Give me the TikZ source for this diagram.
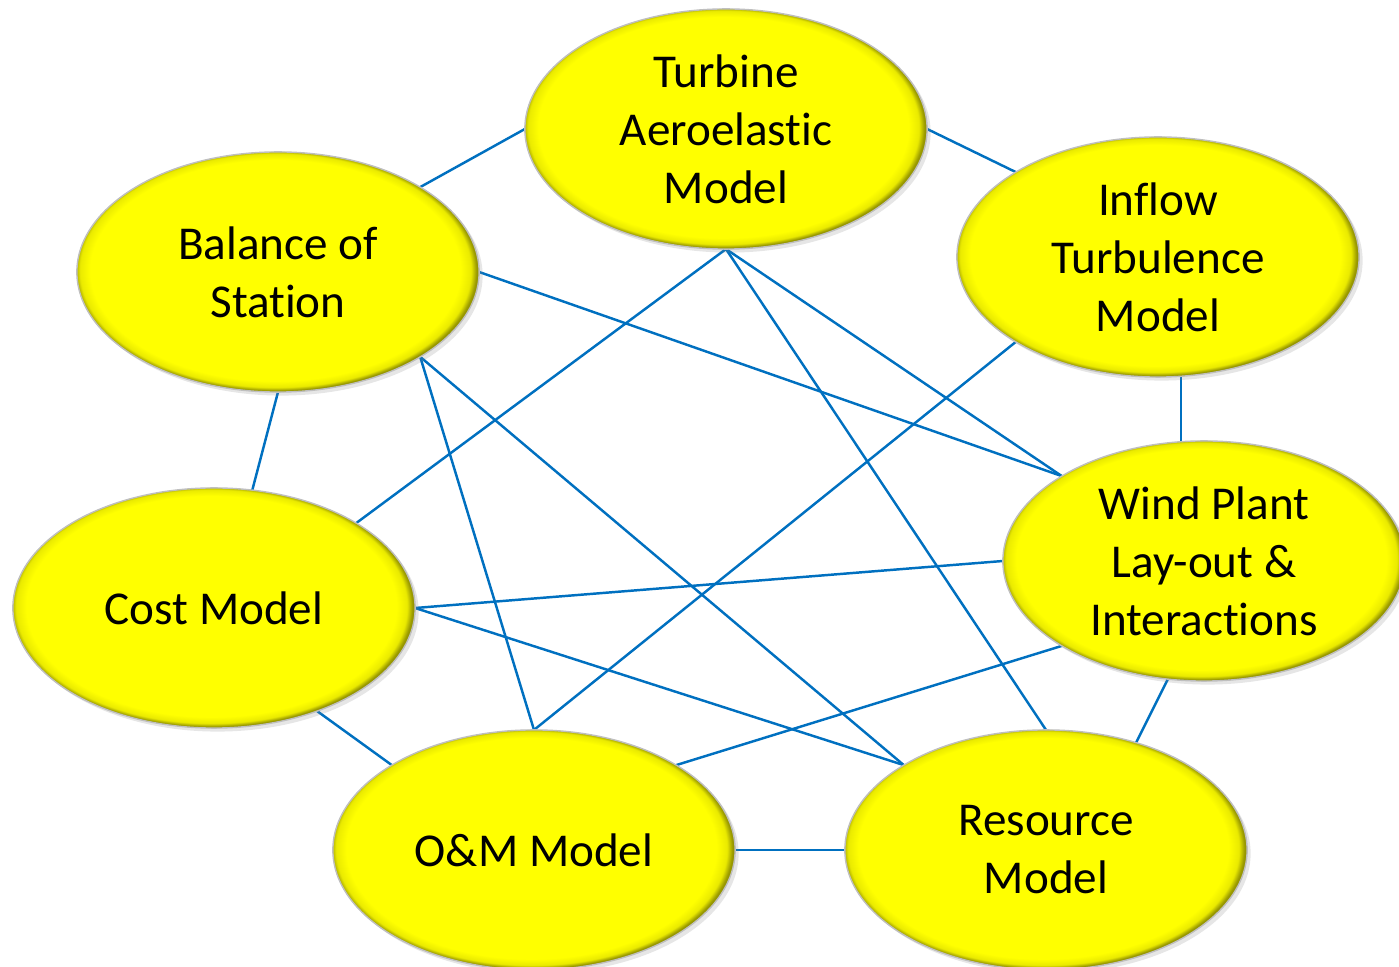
\documentclass[tikz,border=0pt]{standalone}
\usepackage{fontspec}
\setmainfont{Carlito}[Ligatures={NoCommon}]
\usetikzlibrary{shapes.geometric,backgrounds,shadows}
\definecolor{linkblue}{RGB}{0,112,192}
\definecolor{rimyellow}{RGB}{150,150,0}
% yellow face with a darker rim, offset a little to the upper left
\pgfdeclareradialshading{bevel}{\pgfpoint{-0.6bp}{0.6bp}}{%
  color(0bp)=(yellow); color(23bp)=(yellow);
  color(24.3bp)=(yellow!80!rimyellow); color(25bp)=(rimyellow);
  color(50bp)=(rimyellow)}

\begin{document}
\begin{tikzpicture}[
  x=0.01cm, y=-0.01cm,
  font=\fontsize{13.4}{16.5}\selectfont,
  model/.style={ellipse, shading=bevel, draw=black!25, line width=0.4pt,
                minimum width=4.02cm, minimum height=2.4cm, inner sep=0pt,
                outer sep=0pt, align=center,
                drop shadow={shadow xshift=1pt, shadow yshift=-1pt, opacity=0.2}},
  link/.style={draw=linkblue, line width=0.7pt}]
\useasboundingbox (0,0) rectangle (1399,967);
\node[model] (tam)  at (726,129)  {Turbine\\Aeroelastic\\Model};
\node[model] (itm)  at (1158,257) {Inflow\\Turbulence\\Model};
\node[model] (bos)  at (278,272)  {Balance of\\Station};
\node[model] (wpl)  at (1204,561) {Wind Plant\\Lay-out \&\\Interactions};
\node[model] (cost) at (214,608)  {Cost Model};
\node[model] (om)   at (534,850)  {O\&M Model};
\node[model] (res)  at (1046,850) {Resource\\Model};
\begin{scope}[on background layer]
\draw[link] (bos.north east) -- (tam.west);
\draw[link] (tam.east) -- (itm.north west);
\draw[link] (bos.south) -- (cost.72);
\draw[link] (itm.-79) -- (itm.-79 |- wpl.north);
\draw[link] (tam.south) -- (cost.north east);
\draw[link] (tam.south) -- (wpl.north west);
\draw[link] (tam.south) -- (res.north);
\draw[link] (bos.east) -- (wpl.north west);
\draw[link] (bos.south east) -- (om.north);
\draw[link] (bos.south east) -- (res.north west);
\draw[link] (itm.south west) -- (om.north);
\draw[link] (cost.east) -- (wpl.west);
\draw[link] (cost.east) -- (res.north west);
\draw[link] (wpl.south west) -- (om.north east);
\draw[link] (wpl.-107) -- (res.50);
\draw[link] (cost.-45) -- (om.north west);
\draw[link] (om.east) -- (res.west);
\end{scope}
\end{tikzpicture}
\end{document}
